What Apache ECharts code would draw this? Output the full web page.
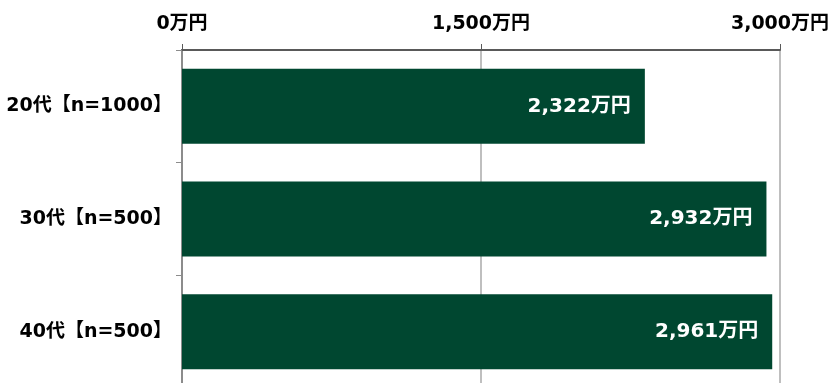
<!DOCTYPE html>
<html>
<head>
<meta charset="utf-8">
<script src="https://cdn.jsdelivr.net/npm/echarts@6/dist/echarts.min.js"></script>
<style>
  html, body { margin: 0; padding: 0; background: #fff; }
  #chart { width: 835px; height: 383px; }
</style>
</head>
<body>
<div id="chart"></div>
<script>
const categories = ["20代【n=1000】", "30代【n=500】", "40代【n=500】"];
const values = [2322, 2932, 2961];
const axisMax = 3000;
const axisStep = 1500;

const fontFamily = '"DejaVu Sans", "Noto Sans CJK JP", sans-serif';

function fmt(v) {
  return v.toLocaleString("en-US") + "万円";
}

let chart = echarts.init(document.getElementById("chart"));

chart.setOption({
  animation: false,
  grid: {
    left: 182,
    right: 55,
    top: 50,
    height: 338,
    outerBoundsMode: "none",
    containLabel: false,
  },
  xAxis: {
    type: "value",
    position: "top",
    min: 0,
    max: axisMax,
    interval: axisStep,
    axisLine: { show: true, lineStyle: { color: "#595959", width: 2 } },
    axisTick: { show: true, length: 6, lineStyle: { color: "#595959" } },
    axisLabel: {
      formatter: fmt,
      color: "#000",
      fontFamily,
      fontWeight: "bold",
      fontSize: 19,
      margin: 16,
    },
    splitLine: { show: true, lineStyle: { color: "#bfbfbf", width: 2 } },
  },
  yAxis: {
    type: "category",
    data: categories,
    inverse: true,
    axisLine: { show: true, lineStyle: { color: "#8c8c8c", width: 2 } },
    axisTick: { show: true, length: 6, lineStyle: { color: "#8c8c8c" } },
    axisLabel: {
      color: "#000",
      fontFamily,
      fontWeight: "bold",
      fontSize: 19,
      margin: 10,
    },
  },
  series: [
    {
      type: "bar",
      data: values,
      barWidth: 75,
      itemStyle: { color: "#004730" },
      label: {
        show: true,
        position: "insideRight",
        distance: 14,
        formatter: (p) => fmt(p.value),
        color: "#fff",
        fontFamily,
        fontWeight: "bold",
        fontSize: 20,
      },
    },
  ],
});
</script>
</body>
</html>
